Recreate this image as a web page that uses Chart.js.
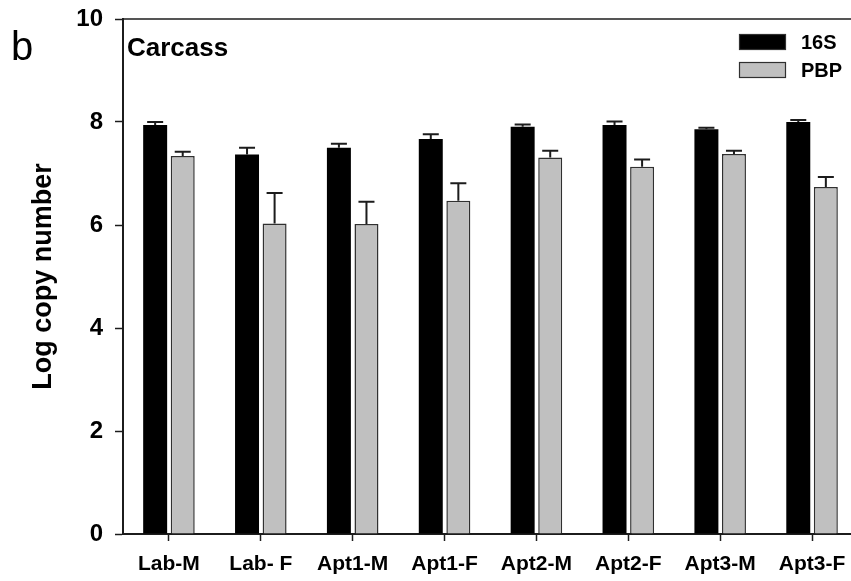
<!DOCTYPE html>
<html>
<head>
<meta charset="utf-8">
<script src="https://cdn.jsdelivr.net/npm/chart.js@4"></script>
<style>
  html, body { margin: 0; padding: 0; background: #fff; overflow: hidden; width: 851px; height: 581px; }
  canvas { display: block; }
</style>
</head>
<body>
<canvas id="c" width="870" height="581"></canvas>
<script>
// Groups (site / sex)
const categories = ['Lab-M', 'Lab- F', 'Apt1-M', 'Apt1-F', 'Apt2-M', 'Apt2-F', 'Apt3-M', 'Apt3-F'];
// Mean log copy numbers
const s16Values = [7.94, 7.37, 7.50, 7.67, 7.91, 7.94, 7.86, 8.00];
const pbpValues = [7.34, 6.03, 6.02, 6.47, 7.31, 7.13, 7.38, 6.74];
// Upper error (SE)
const s16Errors = [0.06, 0.13, 0.08, 0.09, 0.04, 0.07, 0.03, 0.04];
const pbpErrors = [0.08, 0.59, 0.43, 0.34, 0.13, 0.14, 0.06, 0.19];
const yTicks = [0, 2, 4, 6, 8, 10];

const FONT = 'Liberation Sans, Arial, Helvetica, sans-serif';
const INK = '#1c1c1c';

// Upward error bars with caps
const errorBars = {
  id: 'errorBars',
  afterDatasetsDraw(chart) {
    const ctx = chart.ctx;
    const y = chart.scales.y;
    ctx.save();
    ctx.strokeStyle = INK;
    ctx.lineWidth = 2;
    chart.data.datasets.forEach((ds, di) => {
      const meta = chart.getDatasetMeta(di);
      meta.data.forEach((bar, i) => {
        const top = y.getPixelForValue(ds.data[i]);
        const end = y.getPixelForValue(ds.data[i] + ds.errors[i]);
        ctx.beginPath();
        ctx.moveTo(bar.x, top);
        ctx.lineTo(bar.x, end);
        ctx.moveTo(bar.x - 8, end);
        ctx.lineTo(bar.x + 8, end);
        ctx.stroke();
      });
    });
    ctx.restore();
  }
};

// Frame top line, panel letter, panel title and legend
const decorations = {
  id: 'decorations',
  afterDraw(chart) {
    const ctx = chart.ctx;
    const a = chart.chartArea;
    ctx.save();
    ctx.strokeStyle = INK;
    ctx.lineWidth = 1.5;
    ctx.beginPath();
    ctx.moveTo(a.left, a.top);
    ctx.lineTo(a.right, a.top);
    ctx.stroke();

    ctx.fillStyle = '#000';
    ctx.textBaseline = 'alphabetic';
    ctx.textAlign = 'left';
    ctx.font = '40px ' + FONT;
    ctx.fillText('b', 11, 60);
    ctx.font = 'bold 26px ' + FONT;
    ctx.fillText('Carcass', 127, 56);

    // legend
    const items = chart.data.datasets;
    items.forEach((ds, i) => {
      const by = 34 + i * 28;
      ctx.fillStyle = ds.backgroundColor;
      ctx.fillRect(739, by, 47, 16);
      ctx.strokeStyle = '#303030';
      ctx.lineWidth = 1.2;
      ctx.strokeRect(739.5, by + 0.5, 46, 15);
      ctx.fillStyle = '#000';
      ctx.font = 'bold 20px ' + FONT;
      ctx.fillText(ds.label, 801, by + 15);
    });
    ctx.restore();
  }
};

new Chart(document.getElementById('c'), {
  type: 'bar',
  data: {
    labels: categories,
    datasets: [
      { label: '16S', data: s16Values, errors: s16Errors, backgroundColor: '#000000', borderColor: '#000000', borderWidth: 0 },
      { label: 'PBP', data: pbpValues, errors: pbpErrors, backgroundColor: '#c0c0c0', borderColor: '#303030', borderWidth: 1.5 }
    ]
  },
  options: {
    responsive: false,
    animation: false,
    devicePixelRatio: 1,
    categoryPercentage: 0.6,
    barPercentage: 0.87,
    layout: { padding: { top: 19, right: 12, left: 0, bottom: 0 } },
    plugins: { legend: { display: false }, tooltip: { enabled: false } },
    scales: {
      x: {
        afterFit: s => { s.height = 47; s.paddingLeft = 0; s.paddingRight = 0; },
        grid: { display: true, drawOnChartArea: false, drawTicks: true, tickLength: 7, offset: false, tickColor: INK, tickWidth: 1.5 },
        border: { display: true, color: INK, width: 2 },
        ticks: { color: '#000', padding: 11, maxRotation: 0, font: { family: FONT, size: 21, weight: 'bold' } }
      },
      y: {
        min: 0,
        max: 10,
        afterFit: s => { s.width = 123; s.paddingTop = 0; s.paddingBottom = 0; },
        afterBuildTicks: s => { s.ticks = yTicks.map(v => ({ value: v })); },
        grid: { display: true, drawOnChartArea: false, drawTicks: true, tickLength: 8, tickColor: INK, tickWidth: 1.5 },
        border: { display: true, color: INK, width: 2 },
        ticks: { color: '#000', padding: 12, font: { family: FONT, size: 24, weight: 'bold' } },
        title: { display: true, text: 'Log copy number', color: '#000', padding: { top: 27, bottom: 0 }, font: { family: FONT, size: 27, weight: 'bold' } }
      }
    }
  },
  plugins: [errorBars, decorations]
});
</script>
</body>
</html>
